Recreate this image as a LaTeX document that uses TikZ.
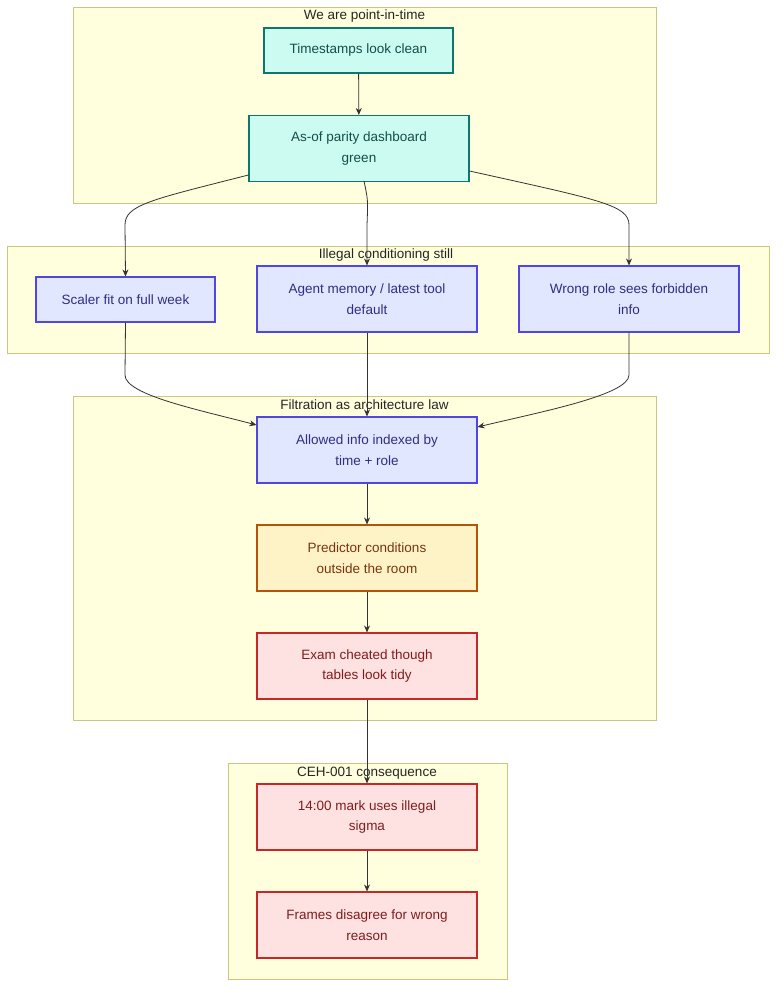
\documentclass[tikz,border=0pt]{standalone}
\usepackage{fontspec}
\setmainfont{Liberation Sans}
\usetikzlibrary{arrows.meta, positioning, calc}
\definecolor{clfill}{HTML}{FFFFDE}
\definecolor{cldraw}{HTML}{C8C880}
\definecolor{tlfill}{HTML}{CCFBF1}
\definecolor{tldraw}{HTML}{0F766E}
\definecolor{tltext}{HTML}{134E4A}
\definecolor{blfill}{HTML}{E0E7FF}
\definecolor{bldraw}{HTML}{4F46E5}
\definecolor{bltext}{HTML}{312E81}
\definecolor{orfill}{HTML}{FEF3C7}
\definecolor{ordraw}{HTML}{B45309}
\definecolor{ortext}{HTML}{78350F}
\definecolor{rdfill}{HTML}{FEE2E2}
\definecolor{rddraw}{HTML}{C62828}
\definecolor{rdtext}{HTML}{7F1D1D}
\tikzset{
    box/.style={draw, line width=1.1pt, minimum height=45pt, align=center,
      font=\fontsize{13.5}{20.5}\selectfont},
    tall/.append style={minimum height=66pt, minimum width=220pt},
    teal/.style={box, fill=tlfill, draw=tldraw, text=tltext},
    blue/.style={box, fill=blfill, draw=bldraw, text=bltext},
    orng/.style={box, fill=orfill, draw=ordraw, text=ortext},
    red/.style={box, fill=rdfill, draw=rddraw, text=rdtext},
    cluster/.style={fill=clfill, draw=cldraw, line width=0.8pt},
    cltitle/.style={font=\fontsize{13.5}{16}\selectfont, text=black!85},
    link/.style={draw=black!80, line width=0.8pt, -{Stealth[length=7pt,width=6pt]}},
}
\begin{document}
\begin{tikzpicture}[x=1pt, y=-1pt]
    \useasboundingbox (0,0) rectangle (784,997);

    % subgraphs
    \draw[cluster] (73,7) rectangle (656,203);
    \draw[cluster] (7,246) rectangle (769,353);
    \draw[cluster] (73,396) rectangle (656,720);
    \draw[cluster] (228,763) rectangle (507,979);
    \node[cltitle] (ct1) at (364.5,16) {We are point-in-time};
    \node[cltitle] (ct2) at (386,255) {Illegal conditioning still};
    \node[cltitle] (ct3) at (364.5,405) {Filtration as architecture law};
    \node[cltitle] (ct4) at (367,773) {CEH-001 consequence};

    % nodes
    \node[teal, minimum width=189pt] (ts) at (358.5,50.5) {Timestamps look clean};
    \node[teal, tall] (asof) at (359,148.5) {As-of parity dashboard\\green};

    \node[blue, minimum width=179pt] (scal) at (125.5,299.5) {Scaler fit on full week};
    \node[blue, tall] (mem) at (367,299) {Agent memory / latest tool\\default};
    \node[blue, tall] (role) at (629,299) {Wrong role sees forbidden\\info};

    \node[blue, tall] (info) at (367,450) {Allowed info indexed by\\time + role};
    \node[orng, tall] (pred) at (367,558) {Predictor conditions\\outside the room};
    \node[red, tall] (exam) at (367,666) {Exam cheated though\\tables look tidy};

    \node[red, tall] (mark) at (367,817) {14:00 mark uses illegal\\sigma};
    \node[red, tall] (fram) at (367,925) {Frames disagree for wrong\\reason};

    % edges
    \draw[link] (ts) -- (asof);
    \draw[link] (asof.west |- 0,175) .. controls (150,200) and (125,205) .. (125,225) -- (scal.north);
    \draw[link] (364,181) .. controls (368,200) .. (367,225) -- (mem.north);
    \draw[link] (asof.east |- 0,171) .. controls (600,200) and (629,205) .. (629,225) -- (role.north);

    \draw[link] (scal.south) -- (125,375) .. controls (125,395) and (200,410) .. (info.west |- 0,425);
    \draw[link] (mem) -- (info);
    \draw[link] (role.south) -- (629,375) .. controls (629,395) and (540,412) .. (info.east |- 0,427);

    \draw[link] (info) -- (pred);
    \draw[link] (pred) -- (exam);
    \draw[link] (exam) -- (mark);
    \draw[link] (mark) -- (fram);
\end{tikzpicture}
\end{document}
